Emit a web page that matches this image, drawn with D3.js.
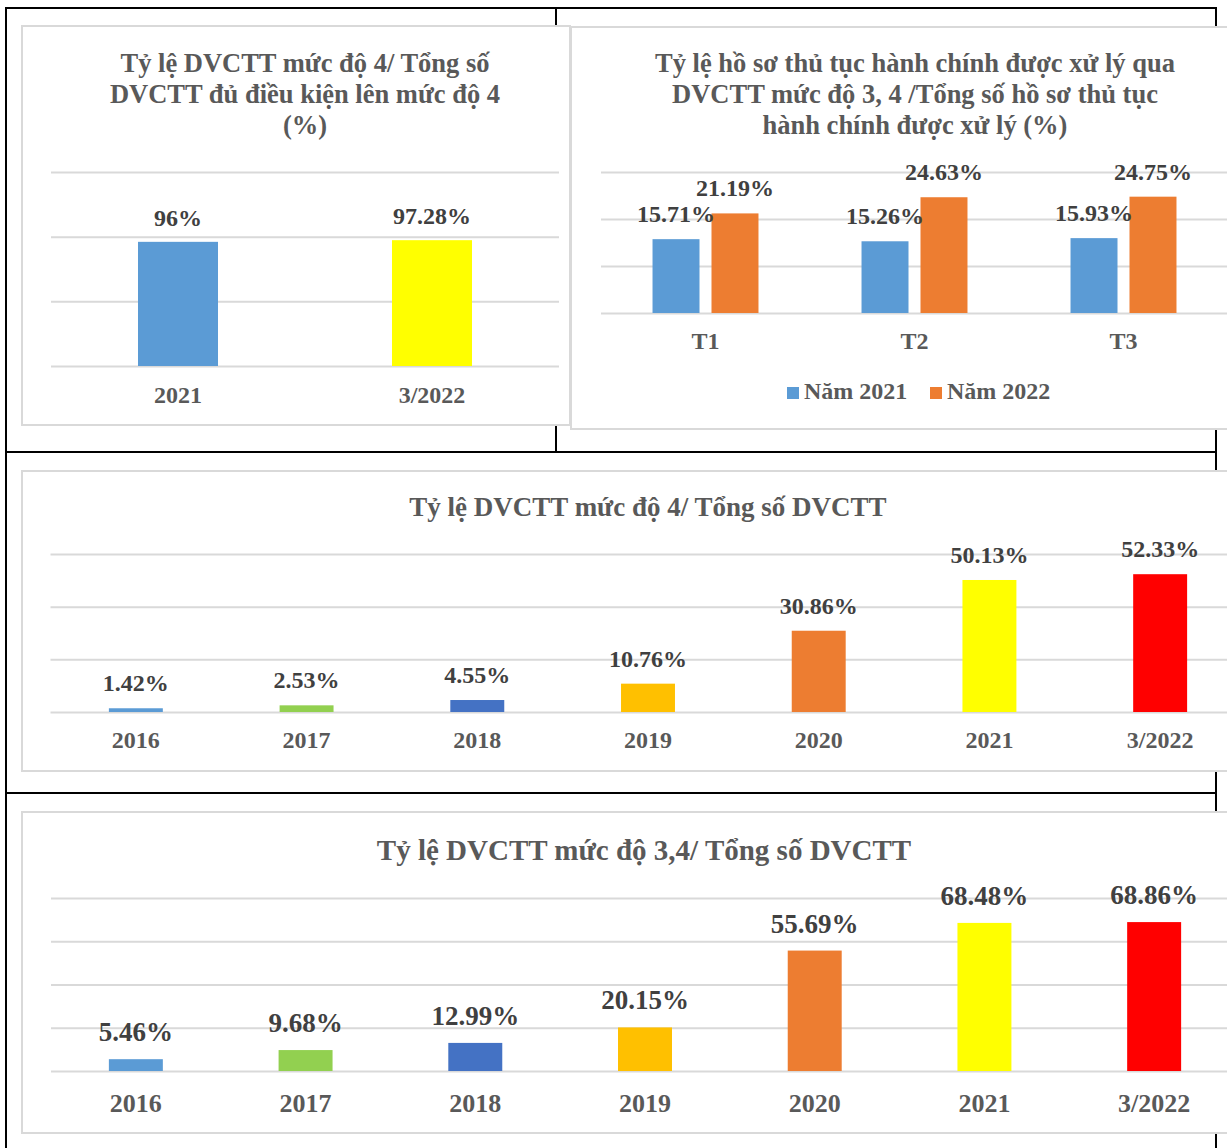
<!DOCTYPE html>
<html>
<head>
<meta charset="utf-8">
<script src="https://cdn.jsdelivr.net/npm/d3@7"></script>
<style>
  body { margin: 0; background: #fff; }
  text { font-family: "Liberation Serif", "Times New Roman", serif; font-weight: bold; }
</style>
</head>
<body>
<script>
// data
const c1Categories = ['2021', '3/2022'];
const c1Values = [96, 97.28];
const c1Ticks = [0, 50, 100, 150];

const c2Categories = ['T1', 'T2', 'T3'];
const c2Series = ['Năm 2021', 'Năm 2022'];
const c2Values2021 = [15.71, 15.26, 15.93];
const c2Values2022 = [21.19, 24.63, 24.75];
const c2Ticks = [0, 10, 20, 30];

const yearCategories = ['2016', '2017', '2018', '2019', '2020', '2021', '3/2022'];
const level4Values = [1.42, 2.53, 4.55, 10.76, 30.86, 50.13, 52.33];
const level4Ticks = [0, 20, 40, 60];
const level34Values = [5.46, 9.68, 12.99, 20.15, 55.69, 68.48, 68.86];
const level34Ticks = [0, 20, 40, 60, 80];

const yearColors = ['#5b9bd5', '#92d050', '#4472c4', '#ffc000', '#ed7d31', '#ffff00', '#ff0000'];
const seriesColors = ['#5b9bd5', '#ed7d31'];

const width = 1227, height = 1148;
const svg = d3.select('body').append('svg').attr('width', width).attr('height', height);

// table borders behind the charts
const borders = [
  [6, 8, 1217, 8], [6, 7, 6, 1148], [1216, 7, 1216, 1148],
  [6, 452, 1216, 452], [6, 793, 1216, 793], [556, 8, 556, 452]
];
svg.append('g').selectAll('line').data(borders).enter().append('line')
  .attr('x1', d => d[0]).attr('y1', d => d[1]).attr('x2', d => d[2]).attr('y2', d => d[3])
  .attr('stroke', '#000').attr('stroke-width', 2);

function box(x, y, w, h) {
  svg.append('rect').attr('x', x).attr('y', y).attr('width', w).attr('height', h)
    .attr('fill', '#fff').attr('stroke', '#d9d9d9').attr('stroke-width', 2);
}

function title(lines, cx, y0, lh, size) {
  svg.append('g').selectAll('text').data(lines).enter().append('text')
    .attr('x', cx).attr('y', (d, i) => y0 + i * lh)
    .attr('text-anchor', 'middle').attr('fill', '#595959').attr('font-size', size)
    .text(d => d);
}

function grid(y, ticks, x0, x1) {
  svg.append('g')
    .attr('transform', `translate(${x0},0)`)
    .call(d3.axisLeft(y).tickValues(ticks).tickSize(-(x1 - x0)).tickFormat(''))
    .call(g => g.select('.domain').remove())
    .call(g => g.selectAll('line').attr('stroke', '#d9d9d9').attr('stroke-width', 2));
}

function catAxis(x, yPos, size) {
  svg.append('g')
    .attr('transform', `translate(0,${yPos})`)
    .call(d3.axisBottom(x).tickSize(0))
    .call(g => g.select('.domain').remove())
    .call(g => g.selectAll('text').attr('y', 0).attr('dy', 0)
      .attr('fill', '#595959').attr('font-size', size)
      .style('font-family', '"Liberation Serif", serif').style('font-weight', 'bold'));
}

function simpleChart(cfg) {
  const x = d3.scaleBand().domain(cfg.categories).range([cfg.x0, cfg.x1])
    .paddingInner(cfg.pad).paddingOuter(cfg.pad / 2);
  const y = d3.scaleLinear().domain([0, d3.max(cfg.ticks)]).range([cfg.yBase, cfg.yTop]);
  grid(y, cfg.ticks, cfg.x0, cfg.x1);
  svg.append('g').selectAll('rect').data(cfg.values).enter().append('rect')
    .attr('x', (d, i) => x(cfg.categories[i]))
    .attr('y', d => y(d))
    .attr('width', x.bandwidth())
    .attr('height', d => y(0) - y(d))
    .attr('fill', (d, i) => cfg.colors[i]);
  svg.append('g').selectAll('text').data(cfg.values).enter().append('text')
    .attr('x', (d, i) => x(cfg.categories[i]) + x.bandwidth() / 2)
    .attr('y', d => y(d) - cfg.labelGap)
    .attr('text-anchor', 'middle').attr('fill', '#404040').attr('font-size', cfg.labelSize)
    .text(d => d + '%');
  catAxis(x, cfg.catY, cfg.catSize);
}

// chart 1
box(22, 26, 548, 399);
title(['Tỷ lệ DVCTT mức độ 4/ Tổng số', 'DVCTT đủ điều kiện lên mức độ 4', '(%)'], 305, 72, 31, 26.5);
simpleChart({
  categories: c1Categories, values: c1Values, ticks: c1Ticks, colors: ['#5b9bd5', '#ffff00'],
  x0: 51, x1: 559, yBase: 366, yTop: 172, pad: 0.685, labelSize: 24, labelGap: 16, catY: 403, catSize: 24
});

// chart 2 (grouped)
box(571, 27, 700, 402);
title(['Tỷ lệ hồ sơ thủ tục hành chính được xử lý qua', 'DVCTT mức độ 3, 4 /Tổng số hồ sơ thủ tục', 'hành chính được xử lý (%)'], 915, 72, 31, 26.5);
{
  const x0 = 601, x1 = 1228;
  const x = d3.scaleBand().domain(c2Categories).range([x0, x1]).paddingInner(0.493).paddingOuter(0.2465);
  const xs = d3.scaleBand().domain(c2Series).range([0, x.bandwidth()]).paddingInner(0.2034);
  const y = d3.scaleLinear().domain([0, d3.max(c2Ticks)]).range([313, 172]);
  grid(y, c2Ticks, x0, x1 + 20);
  const rows = c2Categories.map((c, i) => ({ cat: c, vals: [c2Values2021[i], c2Values2022[i]] }));
  const grp = svg.append('g').selectAll('g').data(rows).enter().append('g')
    .attr('transform', d => `translate(${x(d.cat)},0)`);
  grp.selectAll('rect').data(d => d.vals).enter().append('rect')
    .attr('x', (d, i) => xs(c2Series[i])).attr('y', d => y(d))
    .attr('width', xs.bandwidth()).attr('height', d => y(0) - y(d))
    .attr('fill', (d, i) => seriesColors[i]);
  grp.selectAll('text').data(d => d.vals).enter().append('text')
    .attr('x', (d, i) => xs(c2Series[i]) + xs.bandwidth() / 2).attr('y', d => y(d) - 17)
    .attr('text-anchor', 'middle').attr('fill', '#404040').attr('font-size', 24)
    .text(d => d + '%');
  catAxis(x, 349, 24);

  // legend
  const legendX = [787, 930];
  const lg = svg.append('g').selectAll('g').data(c2Series).enter().append('g')
    .attr('transform', (d, i) => `translate(${legendX[i]},387)`);
  lg.append('rect').attr('width', 12).attr('height', 12).attr('fill', (d, i) => seriesColors[i]);
  lg.append('text').attr('x', 17).attr('y', 12).attr('fill', '#595959').attr('font-size', 24).text(d => d);
}

// chart 3
box(22, 471, 1230, 300);
title(['Tỷ lệ DVCTT mức độ 4/ Tổng số DVCTT'], 648, 516, 0, 27);
simpleChart({
  categories: yearCategories, values: level4Values, ticks: level4Ticks, colors: yearColors,
  x0: 50.5, x1: 1245.5, yBase: 712, yTop: 554, pad: 0.684, labelSize: 24, labelGap: 17, catY: 748, catSize: 24
});

// chart 4
box(22, 812, 1230, 321);
title(['Tỷ lệ DVCTT mức độ 3,4/ Tổng số DVCTT'], 644, 860, 0, 29);
simpleChart({
  categories: yearCategories, values: level34Values, ticks: level34Ticks, colors: yearColors,
  x0: 51, x1: 1239, yBase: 1071, yTop: 898, pad: 0.682, labelSize: 27, labelGap: 18, catY: 1112, catSize: 26
});
</script>
</body>
</html>
